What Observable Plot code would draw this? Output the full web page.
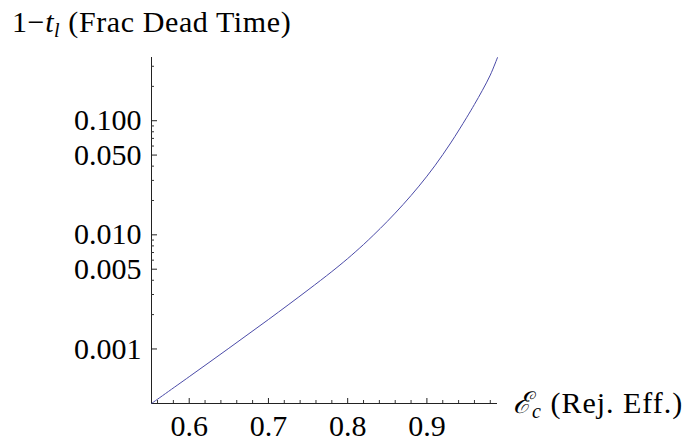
<!DOCTYPE html>
<html><head><meta charset="utf-8">
<script src="https://cdn.jsdelivr.net/npm/d3@7"></script>
<script src="https://cdn.jsdelivr.net/npm/@observablehq/plot@0.6"></script>
<style>
body{margin:0;background:#fff}
#chart svg text{font-family:"Liberation Serif","Times New Roman",serif !important;}
</style>
</head><body><div id="chart"></div>
<script>
// Rejection efficiency (x) and fractional dead time 1 - t_l (y, log)
const rejEff   = [0.5524, 0.60, 0.65, 0.70, 0.75, 0.78, 0.80, 0.82, 0.8329, 0.85, 0.87, 0.89, 0.91, 0.93, 0.95, 0.96, 0.97, 0.98, 0.9891];
const deadFrac = [3.327e-4, 5.715e-4, 1.014e-3, 1.811e-3, 3.289e-3, 4.764e-3, 6.194e-3, 8.222e-3, 1.000e-2, 1.312e-2, 1.845e-2, 2.673e-2, 4.027e-2, 6.383e-2, 0.1062, 0.1390, 0.1845, 0.2512, 0.3581];

const xTickLabels = [0.6, 0.7, 0.8, 0.9];
const xMinorTicks = [0.56, 0.58, 0.62, 0.64, 0.66, 0.68, 0.72, 0.74, 0.76, 0.78, 0.82, 0.84, 0.86, 0.88, 0.92, 0.94, 0.96, 0.98];
const yTickLabels = [0.001, 0.005, 0.01, 0.05, 0.1];
const yMinorTicks = [0.002, 0.003, 0.004, 0.006, 0.007, 0.008, 0.009, 0.02, 0.03, 0.04, 0.06, 0.07, 0.08, 0.09, 0.2, 0.3];

const W = 683, H = 441, mL = 151, mR = 186, mT = 57, mB = 38;
const fw = W - mL - mR, fh = H - mT - mB;
const font = "Liberation Serif, Times New Roman, serif";
const fs = 30;
const data = rejEff.map((x, i) => ({x, y: deadFrac[i]}));
const xDom = d3.extent(rejEff), yDom = d3.extent(deadFrac);

const plot = Plot.plot({
  width: W, height: H,
  marginLeft: mL, marginRight: mR, marginTop: mT, marginBottom: mB,
  style: {fontFamily: font, fontSize: fs + "px", background: "white", color: "black", overflow: "visible"},
  x: {domain: xDom, axis: null},
  y: {type: "log", domain: yDom, axis: null},
  marks: [
    Plot.ruleY([yDom[0]], {stroke: "#222", strokeWidth: 1}),
    Plot.ruleX([xDom[0]], {stroke: "#222", strokeWidth: 1}),
    Plot.tickX(xMinorTicks, {x: d => d, insetTop: fh - 3, stroke: "#333"}),
    Plot.tickX(xTickLabels, {x: d => d, insetTop: fh - 5, stroke: "#222"}),
    Plot.tickY(yMinorTicks, {y: d => d, insetRight: fw - 3, stroke: "#333"}),
    Plot.tickY(yTickLabels, {y: d => d, insetRight: fw - 6, stroke: "#222"}),
    Plot.text(xTickLabels, {x: d => d, y: yDom[0], text: d => d3.format(".1f")(d), dy: 23, fontSize: fs, fontFamily: font, fill: "black", textAnchor: "middle"}),
    Plot.text(yTickLabels, {x: xDom[0], y: d => d, text: d => d3.format(".3f")(d), dx: -10, fontSize: fs, fontFamily: font, fill: "black", textAnchor: "end"}),
    Plot.line(data, {x: "x", y: "y", stroke: "#4b4ba8", strokeWidth: 1, curve: "catmull-rom"})
  ]
});

const svg = d3.select(plot);
const title = svg.append("text").attr("x", 12).attr("y", 32).attr("text-anchor", "start")
  .attr("font-family", font).attr("font-size", fs).attr("fill", "black").attr("letter-spacing", 0.6);
title.append("tspan").text("1−");
title.append("tspan").attr("font-style", "italic").text("t");
title.append("tspan").attr("font-style", "italic").attr("font-size", 20).attr("dy", 5).text("l");
title.append("tspan").attr("dy", -5).text(" (Frac Dead Time)");

const xl = svg.append("text").attr("x", 513).attr("y", 413).attr("text-anchor", "start")
  .attr("font-family", font).attr("font-size", fs).attr("fill", "black").attr("letter-spacing", 1);
xl.append("tspan").attr("font-style", "italic").text("ℰ");
xl.append("tspan").attr("font-style", "italic").attr("font-size", 20).attr("dy", 5).text("c");
xl.append("tspan").attr("dy", -5).text(" (Rej. Eff.)");

document.getElementById("chart").appendChild(plot);
</script>
</body></html>
